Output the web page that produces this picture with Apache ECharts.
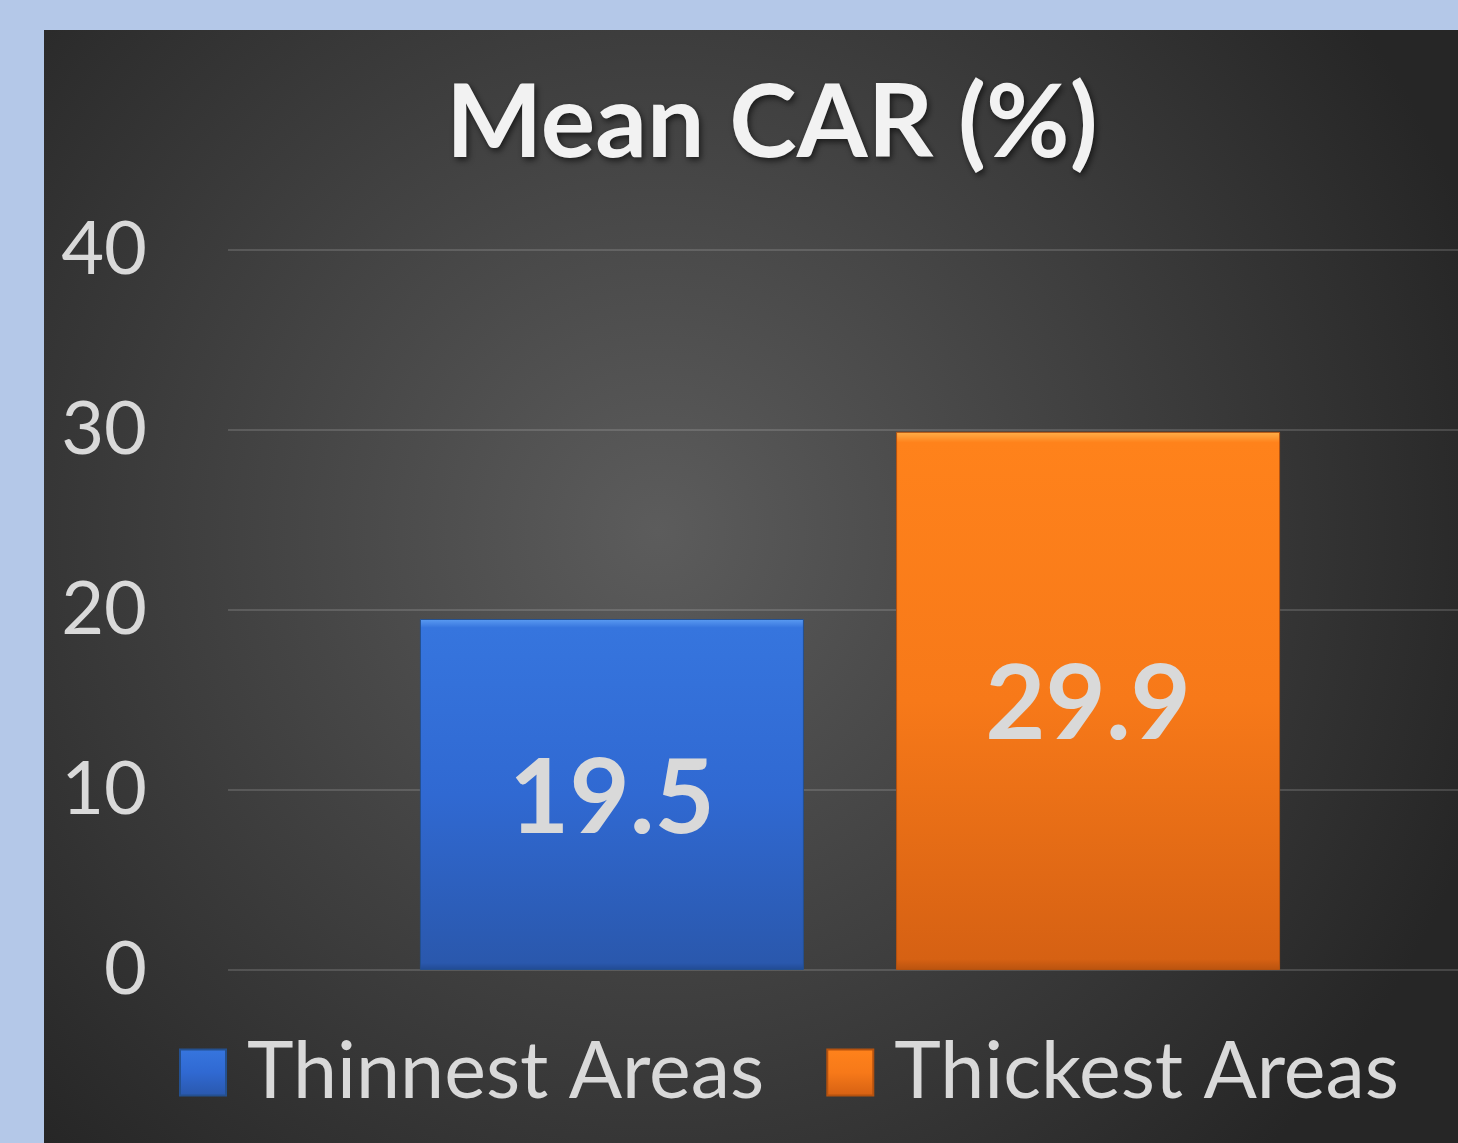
<!DOCTYPE html>
<html>
<head>
<meta charset="utf-8">
<script src="https://cdn.jsdelivr.net/npm/echarts@6/dist/echarts.min.js"></script>
<style>
  html, body { margin: 0; padding: 0; background: #b4c8e8; overflow: hidden; }
  /* the plot runs a little past the right edge of the picture, as in the source */
  #chart { position: absolute; left: 44px; top: 30px; width: 1428px; height: 1113px; }
</style>
</head>
<body>
<div id="chart"></div>
<script>
const categories = ['Mean CAR'];
const seriesNames = ['Thinnest Areas', 'Thickest Areas'];
const thinnest = [19.5];
const thickest = [29.9];
const yMin = 0, yMax = 40, yStep = 10;

const chart = echarts.init(document.getElementById('chart'));

// bevel-ish vertical gradients like the office chart style
const blueFill = new echarts.graphic.LinearGradient(0, 0, 0, 1, [
  { offset: 0, color: '#5c9cf2' },
  { offset: 0.025, color: '#3675de' },
  { offset: 0.5, color: '#3069d2' },
  { offset: 0.98, color: '#2a58ad' },
  { offset: 1, color: '#214a92' },
]);
const orangeFill = new echarts.graphic.LinearGradient(0, 0, 0, 1, [
  { offset: 0, color: '#ffb04a' },
  { offset: 0.02, color: '#ff821b' },
  { offset: 0.5, color: '#f77919' },
  { offset: 0.98, color: '#d66113' },
  { offset: 1, color: '#b9530f' },
]);

const labelStyle = {
  show: true,
  position: 'inside',
  offset: [0, 5],
  fontFamily: 'Lato',
  fontWeight: 'bold',
  fontSize: 104,
  color: '#d9d9d9',
  formatter: (p) => p.value.toFixed(1),
};

const option = {
  backgroundColor: {
    type: 'radial', x: 0.43, y: 0.45, r: 0.78,
    colorStops: [
      { offset: 0, color: '#5c5c5c' },
      { offset: 1, color: '#262626' },
    ],
  },
  textStyle: { fontFamily: 'Lato' },
  title: {
    text: 'Mean CAR (%)',
    left: 397,
    top: 38,
    textStyle: {
      fontFamily: 'Lato',
      fontWeight: 'bold',
      fontSize: 102,
      color: '#f2f2f2',
      textShadowColor: 'rgba(0,0,0,0.6)',
      textShadowBlur: 6,
      textShadowOffsetX: 2,
      textShadowOffsetY: 3,
    },
  },
  legend: {
    left: 130,
    top: 998,
    itemWidth: 46,
    itemHeight: 46,
    itemGap: 62,
    icon: 'rect',
    data: seriesNames,
    textStyle: {
      fontFamily: 'Lato',
      fontSize: 79,
      color: '#d9d9d9',
      padding: [0, 0, 0, 16],
    },
  },
  grid: { left: 184, right: 0, top: 220, bottom: 173, containLabel: false },
  xAxis: {
    type: 'category',
    data: categories,
    axisLine: { show: false },
    axisTick: { show: false },
    axisLabel: { show: false },
  },
  yAxis: {
    type: 'value',
    min: yMin,
    max: yMax,
    interval: yStep,
    axisLine: { show: false },
    axisTick: { show: false },
    axisLabel: {
      fontFamily: 'Lato',
      fontSize: 74,
      color: '#d9d9d9',
      margin: 81,
    },
    splitLine: {
      lineStyle: { color: 'rgba(217,217,217,0.18)', width: 2 },
    },
  },
  series: [
    {
      name: seriesNames[0],
      type: 'bar',
      data: thinnest,
      barWidth: 384,
      barGap: '24%',
      itemStyle: { color: blueFill, borderColor: '#24508f', borderWidth: 1 },
      label: labelStyle,
    },
    {
      name: seriesNames[1],
      type: 'bar',
      data: thickest,
      barWidth: 384,
      barGap: '24%',
      itemStyle: { color: orangeFill, borderColor: '#b5520f', borderWidth: 1 },
      label: labelStyle,
    },
  ],
};

chart.setOption(option);
</script>
</body>
</html>
